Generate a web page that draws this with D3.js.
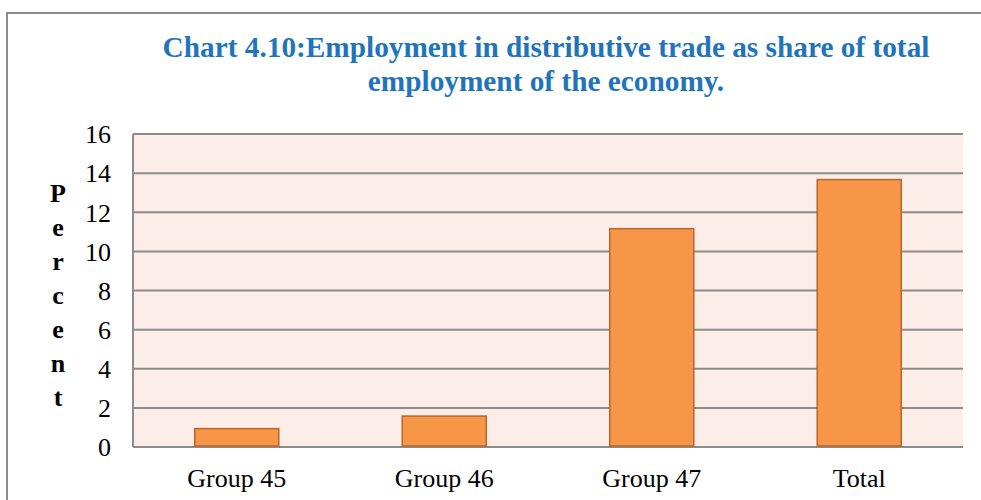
<!DOCTYPE html>
<html>
<head>
<meta charset="utf-8">
<script src="https://cdn.jsdelivr.net/npm/d3@7"></script>
<style>
	body { margin: 0; background: #fff; }
	svg { display: block; }
</style>
</head>
<body>
<div id="chart"></div>
<script>
// Data
var categories = ['Group 45', 'Group 46', 'Group 47', 'Total'];
var values = [0.94, 1.58, 11.16, 13.67];
var yTicks = [0, 2, 4, 6, 8, 10, 12, 14, 16];
var titleLines = ['Chart 4.10:Employment in distributive trade as share of total', 'employment of the economy.'];
var yLabel = 'Percent';

var width = 981,
	height = 500;

var plot = { left: 133, right: 963, top: 134, bottom: 447 };
var serif = 'Liberation Serif, Times New Roman, serif';

var svg = d3.select('#chart').append('svg')
	.attr('width', width)
	.attr('height', height);

// outer frame (cut off at right and bottom)
svg.append('path')
	.attr('d', 'M7,' + height + 'V13H' + width)
	.attr('fill', 'none')
	.attr('stroke', '#8c8c8c')
	.attr('stroke-width', 2);

// title
svg.append('g').selectAll('text')
	.data(titleLines)
	.enter().append('text')
	.attr('x', 546)
	.attr('y', (d, i) => 57 + i * 34)
	.attr('text-anchor', 'middle')
	.style('font-family', serif)
	.style('font-weight', 'bold')
	.style('font-size', '29.3px')
	.attr('fill', '#1f74bb')
	.text(d => d);

var x = d3.scaleBand()
	.domain(categories)
	.range([plot.left, plot.right])
	.paddingInner(0.595)
	.paddingOuter(0.2975);

var y = d3.scaleLinear()
	.domain([0, 16])
	.range([plot.bottom, plot.top]);

// plot background
svg.append('rect')
	.attr('x', plot.left)
	.attr('y', plot.top)
	.attr('width', plot.right - plot.left)
	.attr('height', plot.bottom - plot.top)
	.attr('fill', '#fcede8');

// gridlines
svg.append('g').selectAll('line')
	.data(yTicks)
	.enter().append('line')
	.attr('x1', plot.left)
	.attr('x2', plot.right)
	.attr('y1', d => y(d))
	.attr('y2', d => y(d))
	.attr('stroke', '#8c8c8c')
	.attr('stroke-width', 2);

// left edge of plot
svg.append('line')
	.attr('x1', plot.left).attr('x2', plot.left)
	.attr('y1', plot.top).attr('y2', plot.bottom)
	.attr('stroke', '#8c8c8c')
	.attr('stroke-width', 2);

// bars
svg.append('g').selectAll('rect')
	.data(values)
	.enter().append('rect')
	.attr('x', (d, i) => x(categories[i]))
	.attr('y', d => y(d))
	.attr('width', x.bandwidth())
	.attr('height', d => y(0) - y(d) - 1)
	.attr('fill', '#f79646')
	.attr('stroke', '#b9662a')
	.attr('stroke-width', 1.5);

// y axis labels
var yAxis = d3.axisLeft(y)
	.tickValues(yTicks)
	.tickSize(0)
	.tickPadding(0);

svg.append('g')
	.attr('transform', 'translate(111,0)')
	.call(yAxis)
	.call(g => g.select('.domain').remove())
	.selectAll('text')
	.style('font-family', serif)
	.style('font-size', '26px')
	.attr('fill', '#000')
	.attr('dy', '0.34em');

// x axis labels
var xAxis = d3.axisBottom(x)
	.tickSize(0)
	.tickPadding(0);

svg.append('g')
	.attr('transform', 'translate(0,487)')
	.call(xAxis)
	.call(g => g.select('.domain').remove())
	.selectAll('text')
	.style('font-family', serif)
	.style('font-size', '26px')
	.attr('fill', '#000')
	.attr('y', 0)
	.attr('dy', 0);

// vertical y title, one letter per line
svg.append('g').selectAll('text')
	.data(yLabel.split(''))
	.enter().append('text')
	.attr('x', 58)
	.attr('y', (d, i) => 202 + i * 34)
	.attr('text-anchor', 'middle')
	.style('font-family', serif)
	.style('font-weight', 'bold')
	.style('font-size', '26px')
	.attr('fill', '#000')
	.text(d => d);
</script>
</body>
</html>
